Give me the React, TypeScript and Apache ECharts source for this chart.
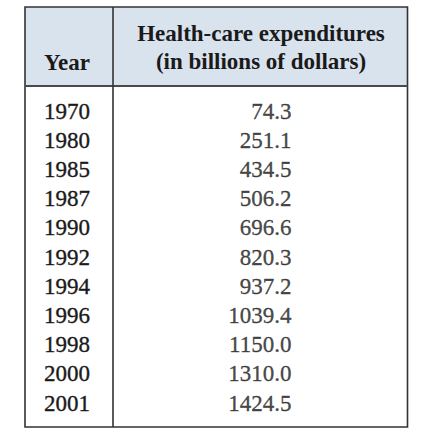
import React, { useEffect, useRef } from "react";
import * as echarts from "echarts";

const years = ["1970", "1980", "1985", "1987", "1990", "1992", "1994", "1996", "1998", "2000", "2001"];
const expenditures = [74.3, 251.1, 434.5, 506.2, 696.6, 820.3, 937.2, 1039.4, 1150.0, 1310.0, 1424.5];
const yearHeader = "Year";
const valueHeader = ["Health-care expenditures", "(in billions of dollars)"];

const FONT = "Liberation Serif";
const TEXT = "#1a1a1a";
const BORDER = "#333333";

export default function App() {
  const ref = useRef<HTMLDivElement>(null);
  useEffect(() => {
    if (!ref.current) return;
    const chart = echarts.init(ref.current, undefined, { renderer: "svg" });
    const L = 25, R = 407.5, T = 7, B = 427, HB = 86, DV = 113;
    chart.setOption({
      animation: false,
      backgroundColor: "#ffffff",
      grid: { left: DV, right: 424 - 291.5, top: 96.4, bottom: 446 - 417.6, containLabel: false },
      xAxis: { type: "value", min: 0, max: 1, show: false },
      yAxis: {
        type: "category",
        data: years,
        inverse: true,
        axisLine: { show: false },
        axisTick: { show: false },
        splitLine: { show: false },
        axisLabel: {
          interval: 0,
          fontSize: 23,
          fontFamily: FONT,
          color: TEXT,
          textBorderColor: TEXT,
          textBorderWidth: 0.35,
          align: "center",
          margin: DV - 67,
        },
      },
      series: [
        {
          type: "scatter",
          symbolSize: 0,
          data: expenditures.map((v, i) => [1, years[i], v]),
          label: {
            show: true,
            position: "left",
            distance: 0,
            fontSize: 23,
            fontFamily: FONT,
            color: TEXT,
            textBorderColor: TEXT,
            textBorderWidth: 0.35,
            formatter: (p: any) => Number(p.value[2]).toFixed(1),
          },
        },
      ],
      graphic: [
        { type: "rect", shape: { x: L, y: T, width: R - L, height: HB - T }, style: { fill: "#d9e3ee" }, z: 0 },
        { type: "rect", shape: { x: L, y: T, width: R - L, height: B - T }, style: { fill: "none", stroke: BORDER, lineWidth: 1.6 }, z: 2 },
        { type: "line", shape: { x1: L, y1: HB, x2: R, y2: HB }, style: { stroke: "#4a4a4a", lineWidth: 2 }, z: 2 },
        { type: "line", shape: { x1: DV, y1: T, x2: DV, y2: B }, style: { stroke: BORDER, lineWidth: 1.6 }, z: 2 },
        {
          type: "text",
          x: 67,
          y: 62,
          z: 3,
          style: { text: yearHeader, fontSize: 23, fontWeight: "bold", fontFamily: FONT, fill: TEXT, align: "center", verticalAlign: "middle" },
        },
        {
          type: "text",
          x: 261,
          y: 47,
          z: 3,
          style: {
            text: valueHeader.join("\n"),
            fontSize: 23,
            fontWeight: "bold",
            fontFamily: FONT,
            lineHeight: 28,
            fill: TEXT,
            align: "center",
            verticalAlign: "middle",
          },
        },
      ],
    });
    return () => chart.dispose();
  }, []);
  return <div ref={ref} style={{ position: "absolute", left: 0, top: 0, width: 424, height: 446 }} />;
}
